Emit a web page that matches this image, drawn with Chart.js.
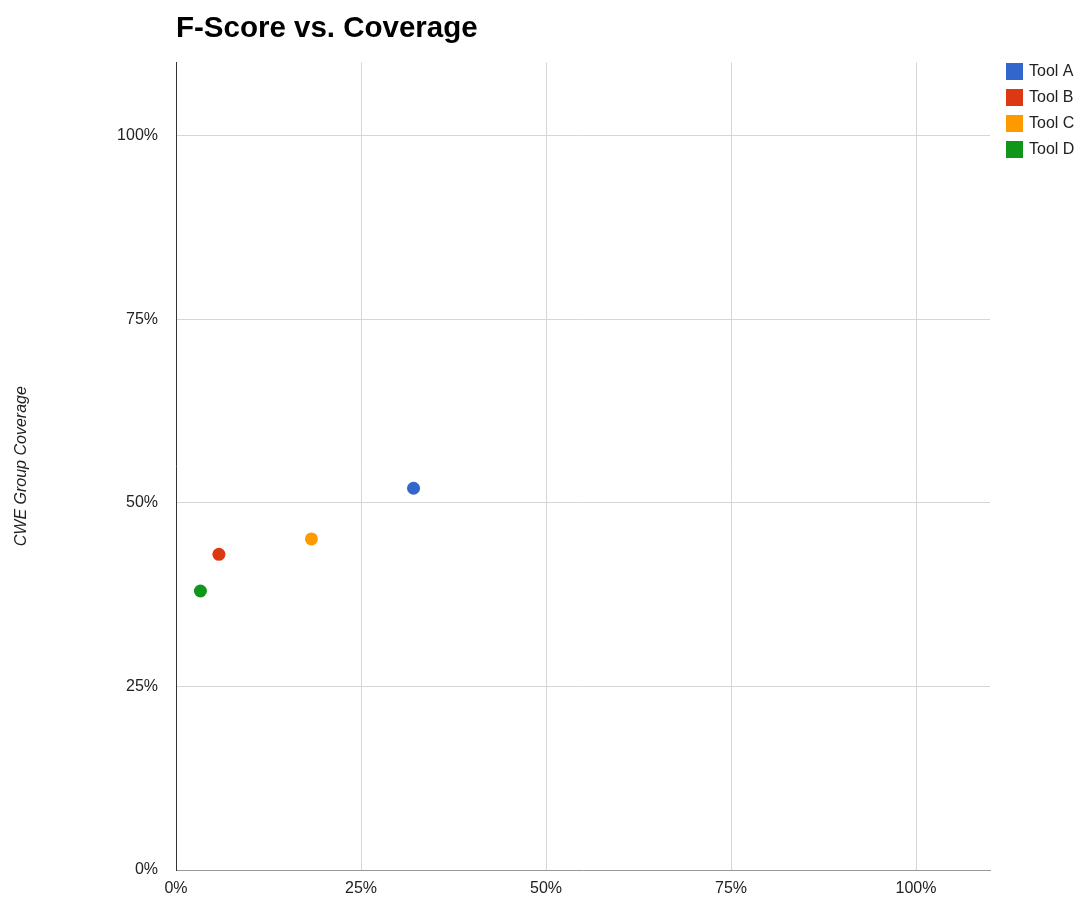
<!DOCTYPE html>
<html>
<head>
<meta charset="utf-8">
<title>F-Score vs. Coverage</title>
<script src="https://cdn.jsdelivr.net/npm/chart.js@4/dist/chart.umd.min.js"></script>
<style>
  html, body { margin: 0; padding: 0; background: #fff; }
  #wrap { width: 1082px; height: 899px; }
</style>
</head>
<body>
<div id="wrap"><canvas id="myChart" width="1082" height="899"></canvas></div>
<script>
// one point per tool: F-score (x) against CWE group coverage (y), in percent
const tools = ['Tool A', 'Tool B', 'Tool C', 'Tool D'];
const fScore = [32.1, 5.8, 18.3, 3.3];
const coverage = [52.0, 43.0, 45.1, 38.0];
const tickValues = [0, 25, 50, 75, 100];

const colors = ['#3366cc', '#dc3912', '#ff9900', '#109618'];
const font = 'Arial, "Liberation Sans", sans-serif';

// legend on the right, drawn by hand so the plot area stays put
const sideLegend = {
  id: 'sideLegend',
  afterDraw(chart) {
    const c = chart.ctx;
    c.save();
    c.font = '16px ' + font;
    c.textBaseline = 'middle';
    chart.data.datasets.forEach((ds, i) => {
      const y = 71 + i * 26;
      c.fillStyle = ds.backgroundColor;
      c.fillRect(1006, y - 8, 17, 17);
      c.fillStyle = '#222';
      c.fillText(ds.label, 1029, y + 1);
    });
    c.restore();
  }
};

const pct = v => v + '%';

const ctx = document.getElementById('myChart');
new Chart(ctx, {
  type: 'scatter',
  data: {
    datasets: tools.map((name, i) => ({
      label: name,
      data: [{ x: fScore[i], y: coverage[i] }],
      backgroundColor: colors[i],
      borderWidth: 0,
      pointRadius: 6.5,
      pointHoverRadius: 6.5
    }))
  },
  options: {
    responsive: false,
    animation: false,
    layout: { padding: { left: 0, right: 92, top: 0, bottom: 0 } },
    plugins: {
      legend: { display: false },
      tooltip: { enabled: false },
      title: {
        display: true,
        text: 'F-Score vs. Coverage',
        align: 'start',
        fullSize: false,
        color: '#000',
        font: { family: font, size: 29.5, weight: 'bold' },
        padding: { top: 11, bottom: 16 }
      }
    },
    scales: {
      x: {
        type: 'linear',
        min: 0,
        max: 110,
        afterBuildTicks: s => { s.ticks = tickValues.map(v => ({ value: v })); },
        afterFit: s => { s.height = 29; },
        border: { display: true, color: '#999', width: 1 },
        grid: { color: '#d6d6d6', drawTicks: false },
        ticks: {
          color: '#222',
          padding: 9,
          font: { family: font, size: 16 },
          callback: pct
        }
      },
      y: {
        type: 'linear',
        min: 0,
        max: 110,
        afterBuildTicks: s => { s.ticks = tickValues.map(v => ({ value: v })); },
        afterFit: s => { s.width = 176; },
        border: { display: true, color: '#333', width: 1 },
        grid: { color: '#d6d6d6', drawTicks: false },
        title: {
          display: true,
          text: 'CWE Group Coverage',
          color: '#222',
          font: { family: font, size: 16, style: 'italic' },
          padding: { top: 12, bottom: 0 }
        },
        ticks: {
          color: '#222',
          padding: 18,
          font: { family: font, size: 16 },
          callback: pct
        }
      }
    }
  },
  plugins: [sideLegend]
});
</script>
</body>
</html>
